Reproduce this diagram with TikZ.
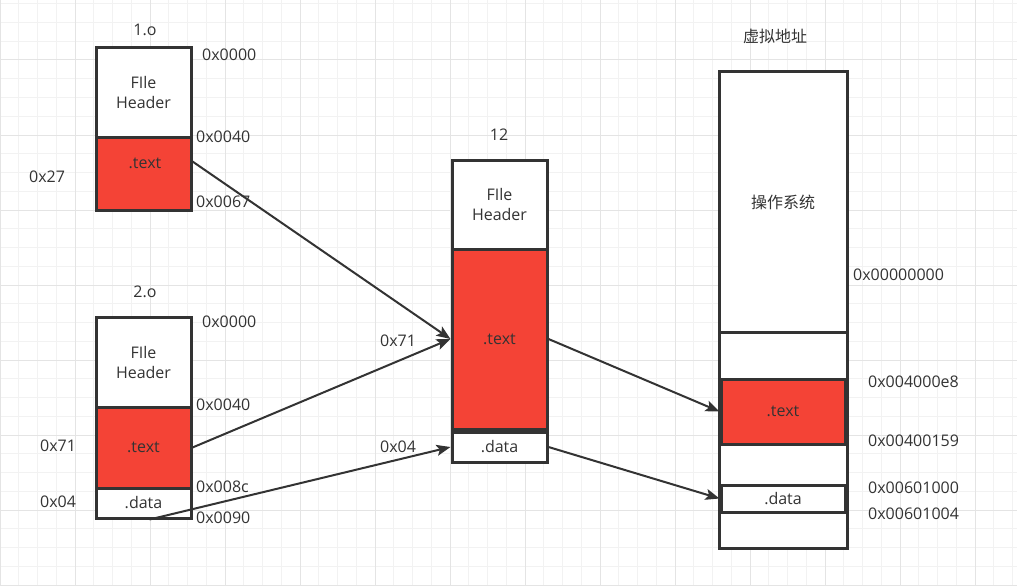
\documentclass[tikz,border=0pt]{standalone}
\usepackage{fontspec}
\setmainfont{Open Sans}
\newfontfamily\cjk{Noto Sans CJK SC}
\usetikzlibrary{arrows.meta, positioning}
\definecolor{linegray}{HTML}{333333}
\definecolor{txtgray}{HTML}{333333}
\definecolor{secred}{HTML}{F44336}
\definecolor{gridminor}{HTML}{F2F2F2}
\definecolor{gridmajor}{HTML}{E4E4E4}
\tikzset{
  sect/.style={draw=linegray, line width=3pt, fill=white, minimum width=95pt, inner sep=0pt, align=center, text=txtgray},
  redsect/.style={sect, fill=secred},
  addr/.style={anchor=west, inner sep=0pt, text=txtgray},
  ttl/.style={inner sep=0pt, text=txtgray},
  link/.style={draw=linegray, line width=2pt, -{Stealth[length=14pt,width=11pt,inset=3pt]}}
}

\begin{document}
\begin{tikzpicture}[x=1pt, y=-1pt, font=\fontsize{16}{20}\selectfont]
\useasboundingbox (0,0) rectangle (1017,586);
% grid
\foreach \i in {0,...,54} \draw[gridminor, line width=1pt] (\i*18.75,0) -- (\i*18.75,586);
\foreach \j in {0,...,31} \draw[gridminor, line width=1pt] (0,3.75+\j*18.75) -- (1017,3.75+\j*18.75);
\foreach \i in {0,...,13} \draw[gridmajor, line width=1pt] (\i*75,0) -- (\i*75,586);
\foreach \j in {0,...,7} \draw[gridmajor, line width=1pt] (0,60+\j*75) -- (1017,60+\j*75);

% 1.o
\node[ttl] (o1title) at (145,30) {1.o};
\node[sect, minimum height=89pt] (h1) at (143.5,92.5) {FIle\\Header};
\node[redsect, minimum height=73pt] (t1) at (143.5,173.5) {};
\node[ttl] (t1lbl) at (145,163) {.text};
\node[addr] (a1a) at (202,55) {0x0000};
\node[addr] (a1b) at (196,137) {0x0040};
\node[addr] (a1c) at (196,202) {0x0067};
\node[addr] (s1) at (29,177) {0x27};

% 2.o
\node[ttl] (o2title) at (145,292) {2.o};
\node[sect, minimum height=90pt] (h2) at (143.5,362) {FIle\\Header};
\node[redsect, minimum height=81pt] (t2) at (143.5,447.5) {.text};
\node[sect, minimum height=30pt] (d2) at (143.5,503) {.data};
\node[addr] (a2a) at (202,322) {0x0000};
\node[addr] (a2b) at (196,405) {0x0040};
\node[addr] (a2c) at (196,487) {0x008c};
\node[addr] (a2d) at (196,518) {0x0090};
\node[addr] (s2a) at (40,446) {0x71};
\node[addr] (s2b) at (40,502) {0x04};

% 12
\node[ttl] (ltitle) at (499,135) {12};
\node[sect, minimum height=89pt] (h12) at (499.5,204.5) {FIle\\Header};
\node[redsect, minimum height=180pt] (t12) at (499.5,339) {.text};
\node[sect, minimum height=30pt] (d12) at (499.5,447) {.data};
\node[addr] (s12a) at (380,341) {0x71};
\node[addr] (s12b) at (380,447) {0x04};

% virtual memory
\node[ttl] (vtitle) at (775,36) {\cjk 虚拟地址};
\node[sect, minimum width=128pt, minimum height=476pt] (vmem) at (783,310) {};
\node[sect, minimum width=128pt, minimum height=260pt] (os) at (783,202) {\cjk 操作系统};
\node[sect, minimum width=128pt, minimum height=47pt] (gapa) at (783,355.5) {};
\node[redsect, minimum width=124pt, minimum height=65pt] (vtext) at (783,411.5) {.text};
\node[sect, minimum width=128pt, minimum height=41pt] (gapb) at (783,464.5) {};
\node[sect, minimum width=124pt, minimum height=27pt] (vdata) at (783,498.5) {.data};
\node[sect, minimum width=128pt, minimum height=36pt] (gapc) at (783,530) {};
\node[addr] (va) at (853,275) {0x00000000};
\node[addr] (vb) at (868,382) {0x004000e8};
\node[addr] (vc) at (868,441) {0x00400159};
\node[addr] (vd) at (868,488) {0x00601000};
\node[addr] (ve) at (868,514) {0x00601004};

% links
\draw[link] ([yshift=12pt]t1.east) -- (t12.west);
\draw[link] (t2.east) -- (t12.west);
\draw[link] ([xshift=6pt]d2.south) -- (d12.west);
\draw[link] (t12.east) -- (vtext.west);
\draw[link] (d12.east) -- (vdata.west);
\end{tikzpicture}
\end{document}
